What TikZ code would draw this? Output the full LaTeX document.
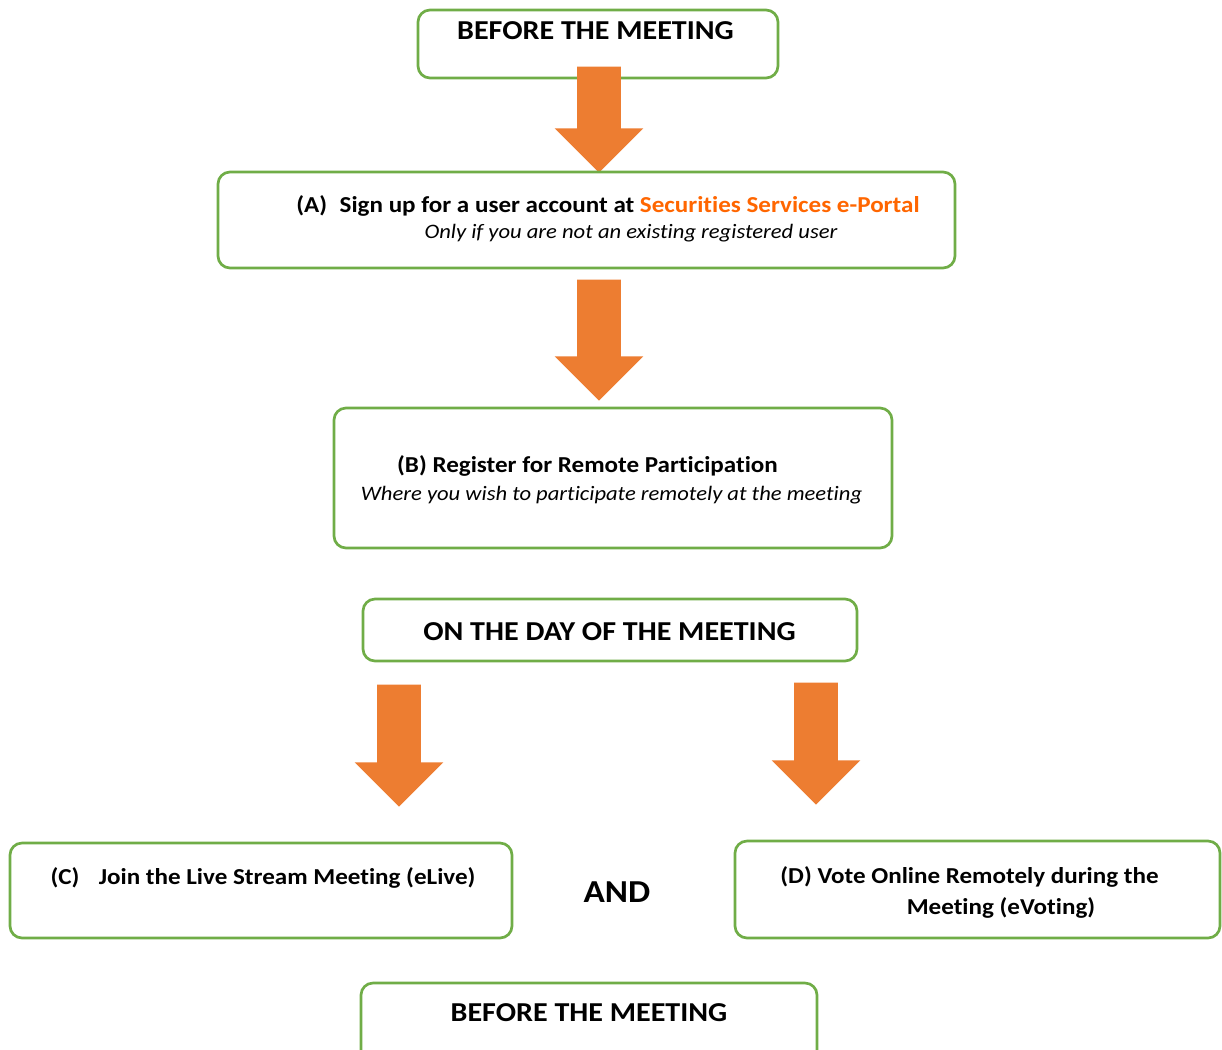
\documentclass[tikz,border=0pt]{standalone}
\usepackage{fontspec}
\setmainfont{Carlito}[FakeStretch=1.1, Ligatures=NoCommon]
\usetikzlibrary{shapes.arrows}

\definecolor{boxgreen}{RGB}{112,173,71}
\definecolor{arroworange}{RGB}{237,125,49}
\definecolor{portalorange}{RGB}{255,102,0}

\begin{document}
\begin{tikzpicture}[x=0.75pt,y=-0.75pt,
  box/.style={draw=boxgreen, line width=2pt, rounded corners=9pt, fill=white, inner sep=0pt},
  stage/.style={font=\bfseries\fontsize{20.5}{24}\selectfont},
  steptitle/.style={font=\bfseries\fontsize{17.1}{21}\selectfont, anchor=base},
  stepnote/.style={font=\itshape\fontsize{15.4}{18}\selectfont, anchor=base},
  bigarrow/.style={single arrow, fill=arroworange, draw=none, inner sep=0pt,
    text height=32.25pt, text depth=0pt, minimum width=66pt,
    single arrow head extend=16.9pt, single arrow tip angle=90,
    rotate=-90, anchor=tip}]
\useasboundingbox (0,0) rectangle (1222,1050);
\clip (0,0) rectangle (1222,1050);

% before the meeting
\node[box, minimum width=270pt, minimum height=51pt] (before) at (598,44) {};
\node[stage] (before-t) at (595.5,31) {BEFORE THE MEETING};

\node[bigarrow, minimum height=79.5pt] (arrA) at (599,173) {};

% step A
\node[box, minimum width=552.75pt, minimum height=72pt] (stepA) at (586.5,220) {};
\node[steptitle] (stepA-t) at (608,212)
  {(A)\hspace{0.55em}Sign up for a user account at \textcolor{portalorange}{Securities Services e-Portal}};
\node[stepnote] (stepA-n) at (631,238) {Only if you are not an existing registered user};

\node[bigarrow, minimum height=90.75pt] (arrB) at (599,401) {};

% step B
\node[box, minimum width=418.5pt, minimum height=105pt] (stepB) at (613,478) {};
\node[steptitle] (stepB-t) at (587.5,472) {(B) Register for Remote Participation};
\node[stepnote] (stepB-n) at (611.5,500) {Where you wish to participate remotely at the meeting};

% on the day
\node[box, minimum width=370.5pt, minimum height=46.5pt] (day) at (610,630) {};
\node[stage] (day-t) at (609.5,632) {ON THE DAY OF THE MEETING};

\node[bigarrow, minimum height=91.5pt] (arrC) at (399,807) {};
\node[bigarrow, minimum height=91.5pt] (arrD) at (816,805) {};

% steps C and D
\node[box, minimum width=376.5pt, minimum height=71.25pt] (stepC) at (261,890.5) {};
\node[steptitle] (stepC-t) at (263,884) {(C)\hspace{0.85em}Join the Live Stream Meeting (eLive)};

\node[font=\bfseries\fontsize{24}{28}\selectfont] (and) at (617,892) {AND};

\node[box, minimum width=363.75pt, minimum height=72.75pt] (stepD) at (977.5,889.5) {};
\node[steptitle] (stepD-t) at (969.5,883) {(D) Vote Online Remotely during the};
\node[steptitle] (stepD-t2) at (1001,914) {Meeting (eVoting)};

% before the meeting (again)
\node[box, minimum width=342pt, minimum height=69pt] (before2) at (589,1029) {};
\node[stage] (before2-t) at (589,1013) {BEFORE THE MEETING};
\end{tikzpicture}
\end{document}
